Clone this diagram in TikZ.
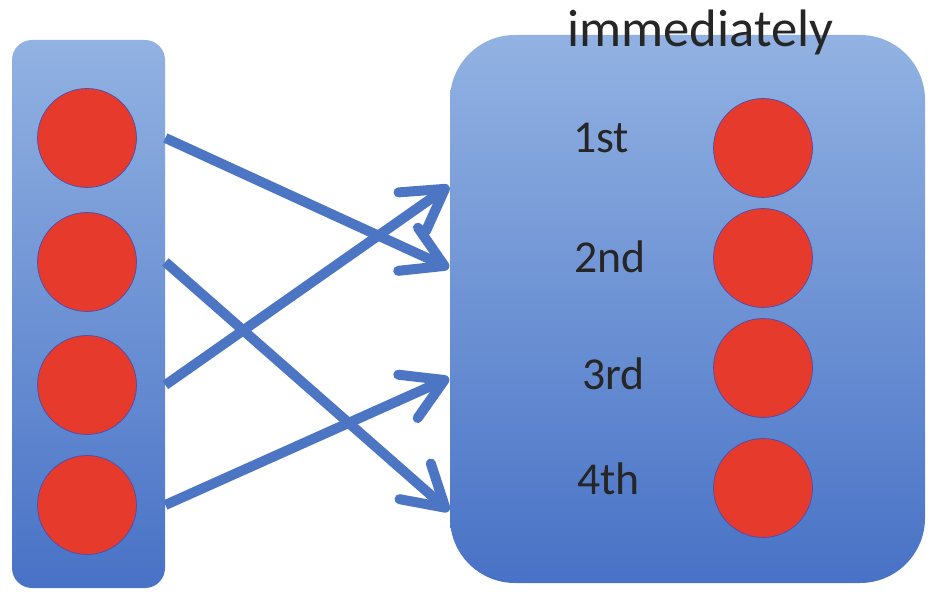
\documentclass[tikz,border=0pt]{standalone}
\usepackage{fontspec}
\setmainfont{Carlito}
\usetikzlibrary{positioning, arrows.meta}
\usetikzlibrary{shadings}

\begin{document}
\begin{tikzpicture}
        % Colori
        \definecolor{boxtop}{RGB}{146,178,226}
        \definecolor{boxbot}{RGB}{72,114,198}
        \definecolor{pallino}{RGB}{230,58,44}
        \definecolor{freccia}{RGB}{76,118,196}
        \tikzset{
            riquadro/.style={top color=boxtop, middle color=boxtop!72!boxbot, bottom color=boxbot, draw=none},
            pallino/.style={circle, fill=pallino, draw=blue!40!gray, thin, minimum size=1.98cm, inner sep=0pt},
            etichetta/.style={anchor=base west, inner sep=0pt, text=black!85, font=\fontsize{26}{30}\selectfont},
            freccia/.style={draw=freccia, line width=0.2cm, -{Straight Barb[length=0.8cm,width=0.95cm,round]}}
        }
        \useasboundingbox (0,0) rectangle (18.6,11.84);

        % Riquadro sinistro
        \node (lbox) at (1.77,5.56) [riquadro, rounded corners=0.4cm, minimum width=3.06cm, minimum height=10.96cm]{};
        \node (l1) at (1.74,9.08) [pallino]{};
        \node (l2) at (1.74,6.60) [pallino]{};
        \node (l3) at (1.74,4.14) [pallino]{};
        \node (l4) at (1.74,1.74) [pallino]{};

        % Riquadro destro
        \node (rbox) at (13.75,5.66) [riquadro, rounded corners=1.3cm, minimum width=9.5cm, minimum height=10.96cm]{};
        \node (r1) at (15.26,8.88) [pallino]{};
        \node (r2) at (15.26,6.68) [pallino]{};
        \node (r3) at (15.26,4.48) [pallino]{};
        \node (r4) at (15.26,2.08) [pallino]{};
        \node (n1) at (11.46,8.78) [etichetta]{1st};
        \node (n2) at (11.48,6.38) [etichetta]{2nd};
        \node (n3) at (11.64,4.04) [etichetta]{3rd};
        \node (n4) at (11.54,1.94) [etichetta]{4th};
        \node (titolo) at (11.34,10.9) [anchor=base west, inner sep=0pt, text=black!85, font=\fontsize{30}{36}\selectfont]{immediately};

        % Frecce
        \coordinate (in1) at (8.98,6.48);
        \coordinate (in2) at (8.98,1.62);
        \coordinate (in3) at (8.98,8.12);
        \coordinate (in4) at (8.98,4.28);
        \draw[freccia] (lbox.east |- l1) -- (in1);
        \draw[freccia] (lbox.east |- l2) -- (in2);
        \draw[freccia] (lbox.east |- l3) -- (in3);
        \draw[freccia] (lbox.east |- l4) -- (in4);
    \end{tikzpicture}
\end{document}
